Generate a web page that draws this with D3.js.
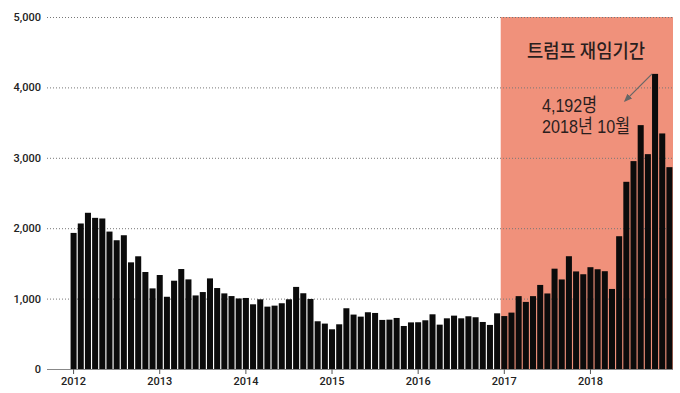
<!DOCTYPE html>
<html>
<head>
<meta charset="utf-8">
<script src="https://cdn.jsdelivr.net/npm/d3@7"></script>
<style>
  body { margin: 0; background: #fff; }
  svg { display: block; }
  .tick text { font-family: Roboto, "Noto Sans", sans-serif; font-weight: 500; font-size: 11px; fill: #222; }
  .note { font-family: "Noto Sans CJK KR", sans-serif; fill: #2a1e1e; }
  .peak { font-family: "Liberation Sans Narrow", "Liberation Sans", "Noto Sans CJK KR", sans-serif; }
</style>
</head>
<body>
<div id="chart"></div>
<script>
// monthly counts, Jan 2012 .. Dec 2018
const years = [2012, 2013, 2014, 2015, 2016, 2017, 2018];
const counts = [
  1933, 2067, 2219, 2147, 2138, 1952, 1829, 1900, 1515, 1601, 1378, 1145,
  1335, 1026, 1254, 1420, 1273, 1045, 1093, 1287, 1150, 1074, 1036, 1002,
  1009, 919, 990, 886, 900, 934, 990, 1166, 1076, 995, 678, 645,
  564, 635, 863, 773, 744, 806, 796, 697, 701, 725, 611, 662,
  664, 692, 777, 630, 720, 758, 720, 749, 735, 668, 626, 791,
  752, 801, 1035, 953, 1035, 1194, 1073, 1425, 1272, 1602, 1386, 1346,
  1446, 1417, 1389, 1137, 1886, 2659, 2953, 3464, 3052, 4192, 3346, 2867
];
const yTicks = [0, 1000, 2000, 3000, 4000, 5000];
const trumpStart = 60; // Jan 2017
const shadeLabel = "트럼프 재임기간";
const peakLabel = ["4,192명", "2018년 10월"];

const W = 680, H = 393;
const plotLeft = 47, plotRight = 673, plotTop = 17, plotBottom = 369;

const svg = d3.select("#chart").append("svg")
    .attr("width", W)
    .attr("height", H);

// scales
const x = d3.scaleBand()
    .domain(d3.range(counts.length))
    .range([70, plotRight])
    .paddingInner(0.16)
    .paddingOuter(0.08);

const y = d3.scaleLinear()
    .domain([0, 5000])
    .range([plotBottom, plotTop]);

// shaded trump period
const shadeX = x(trumpStart) - x.step() * x.paddingInner() / 2;
svg.append("rect")
    .attr("x", shadeX)
    .attr("y", y(5000))
    .attr("width", plotRight - shadeX)
    .attr("height", y(0) - y(5000))
    .attr("fill", "#f0917b");

// y axis + dotted grid
const yAxis = svg.append("g")
    .attr("transform", `translate(${plotLeft},0)`)
    .call(d3.axisLeft(y)
        .tickValues(yTicks)
        .tickFormat(d3.format(","))
        .tickSize(-(plotRight - plotLeft))
        .tickPadding(6));
yAxis.select(".domain").remove();
yAxis.selectAll(".tick line")
    .attr("stroke", "#777")
    .attr("stroke-width", 1)
    .attr("stroke-dasharray", "1,2")
    .filter(d => d === 0).remove();

// bars
svg.selectAll(".bar")
    .data(counts)
    .enter()
    .append("rect")
    .attr("class", "bar")
    .attr("x", (d, i) => x(i))
    .attr("y", d => y(d))
    .attr("width", x.bandwidth())
    .attr("height", d => y(0) - y(d))
    .attr("fill", "#0b0b0b");

// baseline
svg.append("line")
    .attr("x1", plotLeft)
    .attr("x2", plotRight)
    .attr("y1", y(0) + 0.5)
    .attr("y2", y(0) + 0.5)
    .attr("stroke", "#888")
    .attr("stroke-width", 1);

// x axis (years at January)
const xAxis = svg.append("g")
    .attr("transform", `translate(0,${y(0)})`)
    .call(d3.axisBottom(x)
        .tickValues(years.map((yr, i) => i * 12))
        .tickFormat(i => years[i / 12])
        .tickSize(5)
        .tickPadding(3));
xAxis.select(".domain").remove();
xAxis.selectAll(".tick line").attr("stroke", "#555");

// annotations
svg.append("text")
    .attr("class", "note")
    .attr("x", 527)
    .attr("y", 58)
    .attr("textLength", 118)
    .attr("lengthAdjust", "spacingAndGlyphs")
    .style("font-size", "19px")
    .style("font-weight", 500)
    .text(shadeLabel);

const peakIdx = counts.indexOf(4192);
const peakX = x(peakIdx) + x.bandwidth() / 2;

svg.append("defs").append("marker")
    .attr("id", "arrow")
    .attr("viewBox", "0 0 10 10")
    .attr("refX", 8)
    .attr("refY", 5)
    .attr("markerWidth", 7)
    .attr("markerHeight", 7)
    .attr("orient", "auto")
    .append("path")
    .attr("d", "M0,1 L10,5 L0,9 Z")
    .attr("fill", "#666");

svg.append("line")
    .attr("x1", peakX - 3)
    .attr("y1", y(4192) + 0)
    .attr("x2", peakX - 30)
    .attr("y2", y(4192) + 27)
    .attr("stroke", "#666")
    .attr("stroke-width", 1.2)
    .attr("marker-end", "url(#arrow)");

const peakWidths = [55, 88];
svg.selectAll(".peak")
    .data(peakLabel)
    .enter()
    .append("text")
    .attr("class", "note peak")
    .attr("x", 542)
    .attr("y", (d, i) => 111.5 + i * 21.5)
    .attr("textLength", (d, i) => peakWidths[i])
    .attr("lengthAdjust", "spacingAndGlyphs")
    .style("font-size", "19px")
    .text(d => d);
</script>
</body>
</html>
